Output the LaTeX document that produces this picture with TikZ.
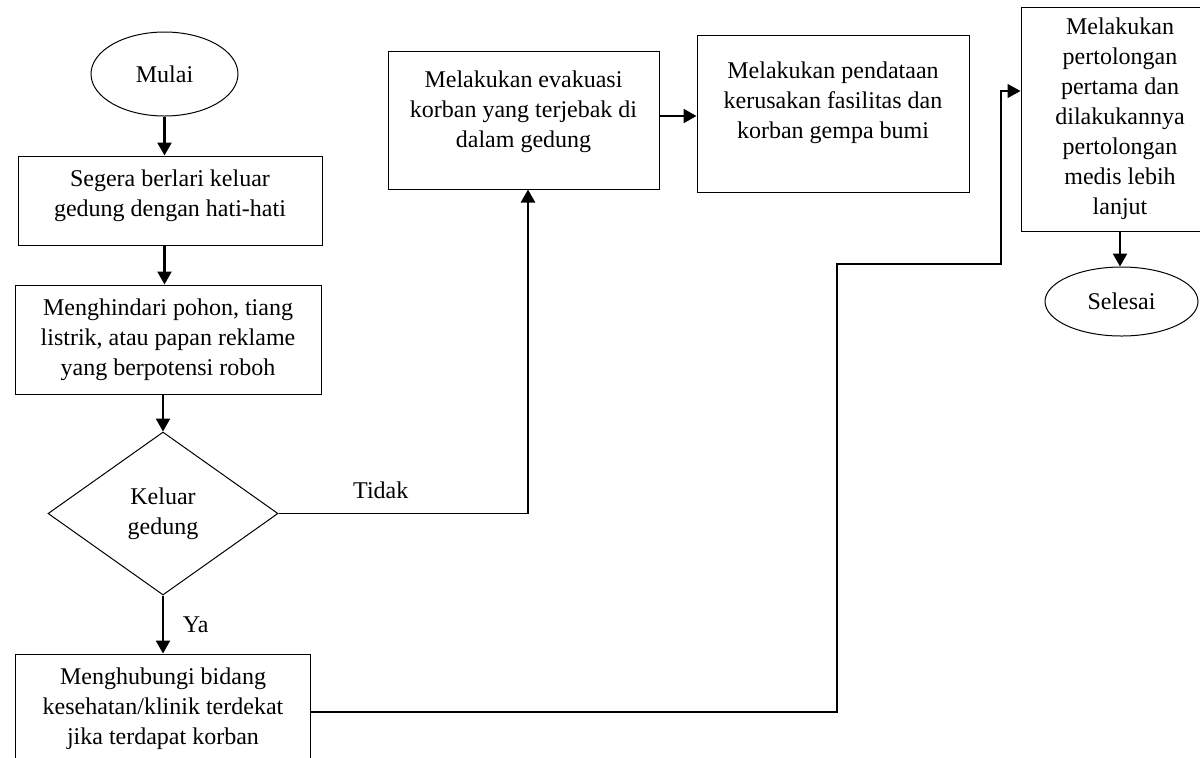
\documentclass[tikz,border=0pt]{standalone}
\usepackage{fontspec}
\setmainfont{Liberation Serif}
\usetikzlibrary{positioning,shapes.geometric,arrows.meta}

\tikzset{
  langkah/.style={draw, rectangle, line width=0.5pt, align=center, inner sep=2pt},
  terminal/.style={draw, ellipse, line width=0.5pt, inner sep=0pt},
  keputusan/.style={draw, diamond, line width=0.5pt, align=center, inner sep=0pt},
  panah/.style={line width=1.2pt, -{Triangle[length=6.5pt,width=7pt]}},
  garis/.style={line width=0.6pt},
  panahtipis/.style={line width=0.6pt, -{Triangle[length=6.5pt,width=7pt]}}
}

\begin{document}
\begin{tikzpicture}[x=0.5pt, y=-0.5pt, every node/.style={font=\fontsize{12}{15}\selectfont}]
  \useasboundingbox (0,0) rectangle (1200,757);

  % kolom kiri
  \node (mulai) [terminal, minimum width=73.5pt, minimum height=42pt] at (164.5,74) {Mulai};
  \node (segera) [langkah, minimum width=152pt, minimum height=44.5pt, text depth=7pt,
    below=19.5pt of mulai, xshift=2.75pt] {Segera berlari keluar\\gedung dengan hati-hati};
  \node (hindari) [langkah, minimum width=153pt, minimum height=54.5pt,
    below=19.5pt of segera, xshift=-1pt] {Menghindari pohon, tiang\\listrik, atau papan reklame\\yang berpotensi roboh};
  \node (keluar) [keputusan, minimum width=115pt, minimum height=81.5pt,
    below=18.5pt of hindari, xshift=-2.5pt] {Keluar\\gedung};
  \node (hubungi) [langkah, minimum width=147.5pt, minimum height=55pt,
    below=29pt of keluar] {Menghubungi bidang\\kesehatan/klinik terdekat\\jika terdapat korban};

  % kolom kanan
  \node (evakuasi) [langkah, minimum width=135.5pt, minimum height=69pt, text depth=11pt] at (523.5,120)
    {Melakukan evakuasi\\korban yang terjebak di\\dalam gedung};
  \node (pendataan) [langkah, minimum width=136pt, minimum height=78.5pt, text depth=13pt] at (833,113.5)
    {Melakukan pendataan\\kerusakan fasilitas dan\\korban gempa bumi};
  \node (pertolongan) [langkah, minimum width=99pt, minimum height=112pt] at (1120,119)
    {Melakukan\\pertolongan\\pertama dan\\dilakukannya\\pertolongan\\medis lebih\\lanjut};
  \node (selesai) [terminal, minimum width=76.5pt, minimum height=34.5pt] at (1121.5,301.5) {Selesai};

  \coordinate (tidak) at ([xshift=2.25pt]evakuasi.south |- keluar.east);
  \coordinate (belok1) at (837,264);
  \coordinate (belok2) at (1001,91);

  \draw[panah] (mulai.south) -- (mulai.south |- segera.north);
  \draw[panah] (segera.south -| mulai) -- (hindari.north -| mulai);
  \draw[panah] (hindari.south -| keluar) -- (keluar.north);
  \draw[panah] (keluar.south) -- (keluar.south |- hubungi.north)
    node[midway, right=6pt] {Ya};
  \draw[garis] (keluar.east) -- (tidak) node[pos=0.41, above=4pt] {Tidak};
  \draw[panah] (tidak) -- (tidak |- evakuasi.south);
  \draw[panah] ([yshift=2pt]evakuasi.east) -- ([yshift=2pt]evakuasi.east -| pendataan.west);
  \draw[panahtipis] ([yshift=-1.5pt]hubungi.east) -| (belok1) -| (belok2) -- (belok2 -| pertolongan.west);
  \draw[panah] (pertolongan.south) -- (pertolongan.south |- selesai.north);
\end{tikzpicture}
\end{document}
